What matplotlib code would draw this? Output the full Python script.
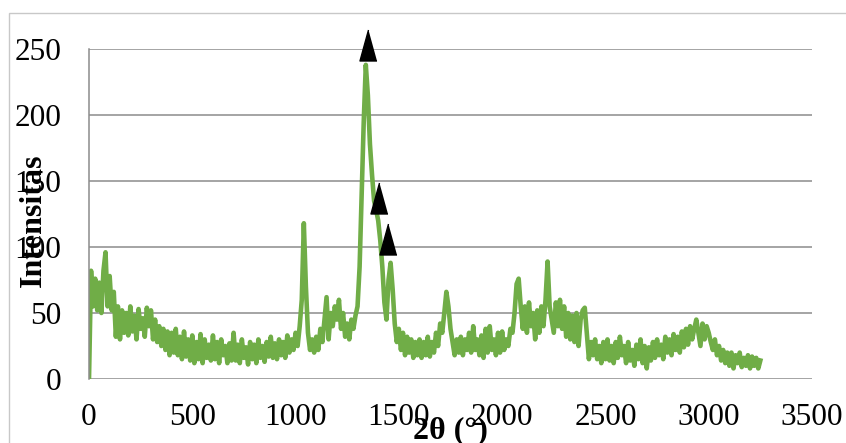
import numpy as np
import matplotlib
import matplotlib.pyplot as plt
from matplotlib.patches import Rectangle

matplotlib.use("Agg")

plt.rcParams["font.family"] = ["Liberation Serif", "DejaVu Serif"]

# sudut 2θ, dicatat tiap 10 satuan
sudut = np.arange(0, 3251, 10)

intensitas = [
    0, 82, 55, 76, 52, 73, 50, 82, 96, 55,
    78, 52, 66, 32, 55, 30, 52, 35, 50, 33,
    55, 36, 48, 30, 53, 38, 46, 32, 54, 40,
    52, 30, 45, 28, 40, 25, 38, 22, 36, 18,
    35, 20, 38, 18, 32, 15, 36, 17, 30, 14,
    33, 12, 28, 15, 34, 12, 30, 16, 26, 14,
    33, 15, 28, 12, 30, 18, 25, 12, 27, 14,
    35, 14, 26, 12, 30, 16, 24, 11, 28, 15,
    26, 12, 30, 16, 25, 13, 28, 17, 32, 16,
    27, 15, 30, 18, 28, 16, 33, 20, 30, 22,
    35, 25, 40, 60, 118, 70, 35, 22, 30, 20,
    32, 22, 38, 28, 45, 62, 30, 50, 40, 55,
    45, 60, 38, 50, 32, 42, 30, 45, 38, 48,
    55, 85, 140, 195, 238, 215, 178, 155, 135, 128,
    120, 105, 85, 58, 45, 75, 88, 68, 42, 28,
    38, 22, 35, 18, 32, 20, 30, 16, 28, 18,
    30, 16, 28, 18, 32, 17, 28, 20, 35, 25,
    42, 35, 50, 66, 55, 38, 28, 18, 30, 20,
    32, 18, 30, 22, 35, 20, 40, 22, 30, 18,
    33, 16, 38, 20, 40, 22, 30, 18, 35, 20,
    36, 22, 30, 25, 38, 35, 50, 72, 76, 55,
    38, 55, 35, 58, 40, 50, 30, 52, 35, 55,
    40, 60, 89, 55, 45, 35, 58, 40, 60, 38,
    55, 32, 50, 30, 48, 28, 50, 25, 45, 52,
    54, 35, 15, 28, 18, 30, 15, 25, 12, 28,
    15, 30, 14, 25, 12, 28, 16, 32, 18, 25,
    12, 28, 14, 22, 10, 26, 15, 30, 12, 25,
    8, 24, 14, 28, 16, 30, 18, 26, 15, 32,
    20, 30, 18, 34, 22, 32, 20, 36, 24, 38,
    26, 40, 30, 38, 45, 35, 25, 42, 30, 40,
    35, 28, 22, 30, 18, 25, 14, 22, 12, 20,
    10, 20, 8, 18, 12, 20, 9, 16, 10, 18,
    8, 17, 10, 16, 8, 14,
]

# posisi penanda puncak (segitiga hitam)
puncak_x = [1349, 1404, 1449]
puncak_y = [253, 137, 106]

y_ticks = [0, 50, 100, 150, 200, 250]
x_ticks = [0, 500, 1000, 1500, 2000, 2500, 3000, 3500]

fig = plt.figure(figsize=(8.46, 4.43), dpi=100)
ax = fig.add_axes([0.1052, 0.1445, 0.8546, 0.7449])

# bingkai luar area grafik
fig.patches.append(
    Rectangle((9 / 846, -0.1), 1.2, 1 - 13 / 443 + 0.1, transform=fig.transFigure,
              fill=False, edgecolor="#c8c8c8", linewidth=1.0)
)

ax.plot(sudut, intensitas, color="#70AD47", linewidth=3.3, solid_joinstyle="round")

segitiga = [(0, 1), (-0.55, -1), (0.55, -1)]
ax.plot(puncak_x, puncak_y, linestyle="none", marker=segitiga, markersize=22.3,
        color="black", clip_on=False, zorder=5)

ax.set_xlim(0, 3500)
ax.set_ylim(0, 250)
ax.set_xticks(x_ticks)
ax.set_yticks(y_ticks)
ax.tick_params(axis="both", length=0, labelsize=22.5)
ax.tick_params(axis="y", pad=20)
ax.tick_params(axis="x", pad=17)

ax.grid(axis="y", color="#8c8c8c", linewidth=1.1)
ax.set_axisbelow(True)
for side in ["top", "right", "bottom"]:
    ax.spines[side].set_visible(False)
ax.spines["left"].set_color("#8c8c8c")
ax.spines["left"].set_linewidth(1.1)

fig.text(33 / 846, 1 - 220 / 443, "Intensitas", rotation=90, ha="center",
         va="center", fontsize=23, fontweight="bold")
fig.text(450 / 846, 1 - 416 / 443, "2θ (°)", ha="center", va="top",
         fontsize=23, fontweight="bold")

fig.savefig("out.png", dpi=100)
plt.close(fig)
